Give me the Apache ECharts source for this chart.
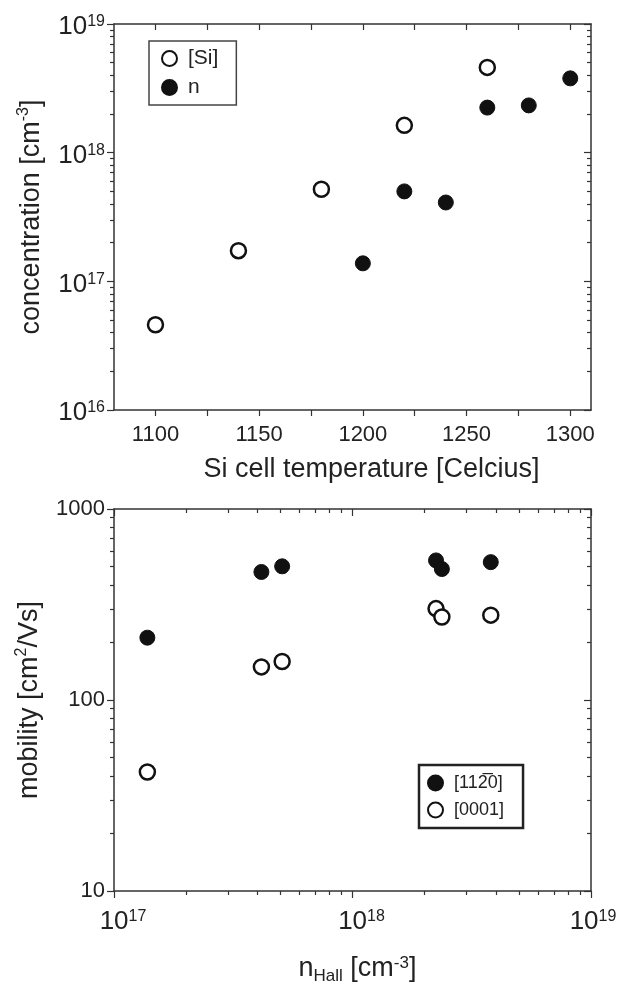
<!DOCTYPE html>
<html><head><meta charset="utf-8">
<script src="https://cdn.jsdelivr.net/npm/echarts@6/dist/echarts.min.js"></script>
<style>html,body{margin:0;padding:0;background:#fff}#c{width:618px;height:998px}</style>
</head><body><div id="c"></div>
<script>
// ---- Top panel data ----
const siTemp = [1100, 1140, 1180, 1220, 1260];
const siConc = [4.6e16, 1.73e17, 5.2e17, 1.63e18, 4.6e18];
const nTemp = [1200, 1220, 1240, 1260, 1280, 1300];
const nConc = [1.38e17, 5.0e17, 4.1e17, 2.24e18, 2.33e18, 3.78e18];
const tempLabels = [1100, 1150, 1200, 1250, 1300];
const tempTicks = [1100, 1125, 1150, 1175, 1200, 1225, 1250, 1275, 1300];
const concDecades = [1e16, 1e17, 1e18, 1e19];
// ---- Bottom panel data ----
const nHall = [1.38e17, 4.15e17, 5.07e17, 2.24e18, 2.37e18, 3.8e18];
const mob1120 = [212, 468, 501, 538, 485, 527];
const mob0001 = [42, 149, 159, 301, 272, 278];
const hallDecades = [1e17, 1e18, 1e19];
const mobDecades = [10, 100, 1000];
const legendTop = ['[Si]', 'n'];
const legendBottom = ['[112\u03050]', '[0001]'];

function minorLog(decs) {
  const out = [];
  for (let i = 0; i < decs.length - 1; i++) for (let k = 2; k <= 9; k++) out.push(decs[i] * k);
  return out;
}
const FF = '"Liberation Sans", Arial, Helvetica, sans-serif';
const AX = { lineStyle: { color: '#333', width: 1.5 } };
const plainFmt = v => String(Math.round(v));
const powFmt = v => '{b|10}{s|' + Math.round(Math.log10(v)) + '}';
const powFmtX = v => {
  const e = Math.round(Math.log10(v));
  return (e >= 19 ? '{q| }' : '{p| }') + '{b|10}{s|' + e + '}';
};
const powRich = { b: { fontSize: 26, fontFamily: FF, color: '#222', verticalAlign: 'bottom', lineHeight: 26 },
                  s: { fontSize: 16, fontFamily: FF, color: '#222', verticalAlign: 'top', lineHeight: 16, padding: [0, 0, 16, 0] },
                  p: { fontSize: 10, width: 18 },
                  q: { fontSize: 10, width: 4 } };

function pairs(xs, ys) { return xs.map((x, i) => [x, ys[i]]); }
function frameAxis(base, extra) { return Object.assign({}, base, extra); }

const xTop0 = { type: 'value', gridIndex: 0, min: 1080, max: 1310, splitLine: { show: false }, axisLine: AX };
const yTop0 = { type: 'log', logBase: 10, gridIndex: 0, min: 1e16, max: 1e19, splitLine: { show: false }, axisLine: AX };
const xBot0 = { type: 'log', logBase: 10, gridIndex: 1, min: 1e17, max: 1e19, splitLine: { show: false }, axisLine: AX };
const yBot0 = { type: 'log', logBase: 10, gridIndex: 1, min: 10, max: 1000, splitLine: { show: false }, axisLine: AX };
const tickStyle = { color: '#333', width: 1.2 };
const noLab = { show: false };

const option = {
  animation: false,
  backgroundColor: '#fff',
  grid: [
    { left: 114, top: 24, width: 477, height: 386, containLabel: false, outerBoundsMode: 'none' },
    { left: 114, top: 509, width: 477, height: 382, containLabel: false, outerBoundsMode: 'none' }
  ],
  xAxis: [
    frameAxis(xTop0, { position: 'bottom',
      axisTick: { customValues: tempTicks, inside: false, length: 6, lineStyle: tickStyle },
      axisLabel: { customValues: tempLabels, formatter: plainFmt, fontSize: 22, fontFamily: FF, color: '#222', margin: 14 },
      name: 'Si cell temperature [Celcius]', nameLocation: 'middle', nameGap: 46,
      nameTextStyle: { fontSize: 27, fontFamily: FF, color: '#222', padding: [0, 0, 0, 38] } }),
    frameAxis(xTop0, { position: 'top',
      axisTick: { customValues: tempTicks, inside: true, length: 6, lineStyle: tickStyle }, axisLabel: noLab }),
    frameAxis(xBot0, { position: 'bottom',
      axisTick: { customValues: hallDecades, inside: false, length: 7, lineStyle: tickStyle },
      axisLabel: { customValues: hallDecades, formatter: powFmtX, rich: powRich, margin: 18, hideOverlap: false },
      name: '{n|n}{h|Hall}{n| [cm}{s|-3}{n|]}', nameLocation: 'middle', nameGap: 58,
      nameTextStyle: { fontSize: 27, fontFamily: FF, color: '#222', padding: [0, 0, 0, 10], rich: {
        n: { fontSize: 27, fontFamily: FF, color: '#222', lineHeight: 30, verticalAlign: 'top' },
        h: { fontSize: 17, fontFamily: FF, color: '#222', lineHeight: 17, verticalAlign: 'bottom', padding: [26, 0, 0, 0] },
        s: { fontSize: 17, fontFamily: FF, color: '#222', lineHeight: 17, verticalAlign: 'top' } } } }),
    frameAxis(xBot0, { position: 'bottom', axisLine: { show: false },
      axisTick: { customValues: minorLog(hallDecades), inside: false, length: 4, lineStyle: tickStyle }, axisLabel: noLab }),
    frameAxis(xBot0, { position: 'top',
      axisTick: { customValues: hallDecades, inside: true, length: 7, lineStyle: tickStyle }, axisLabel: noLab }),
    frameAxis(xBot0, { position: 'top', axisLine: { show: false },
      axisTick: { customValues: minorLog(hallDecades), inside: true, length: 4, lineStyle: tickStyle }, axisLabel: noLab })
  ],
  yAxis: [
    frameAxis(yTop0, { position: 'left',
      axisTick: { customValues: concDecades, inside: false, length: 7, lineStyle: tickStyle },
      axisLabel: { customValues: concDecades, formatter: powFmt, rich: powRich, margin: 9, padding: [6, 0, 0, 0] },
      name: 'concentration [cm{s|-3}]', nameLocation: 'middle', nameGap: 65,
      nameTextStyle: { fontSize: 27, fontFamily: FF, color: '#222', lineHeight: 32,
        rich: { s: { fontSize: 16, fontFamily: FF, color: '#222', verticalAlign: 'top', lineHeight: 16 } } } }),
    frameAxis(yTop0, { position: 'left', axisLine: { show: false },
      axisTick: { customValues: minorLog(concDecades), inside: false, length: 4, lineStyle: tickStyle }, axisLabel: noLab }),
    frameAxis(yTop0, { position: 'right',
      axisTick: { customValues: concDecades, inside: true, length: 7, lineStyle: tickStyle }, axisLabel: noLab }),
    frameAxis(yTop0, { position: 'right', axisLine: { show: false },
      axisTick: { customValues: minorLog(concDecades), inside: true, length: 4, lineStyle: tickStyle }, axisLabel: noLab }),
    frameAxis(yBot0, { position: 'left',
      axisTick: { customValues: mobDecades, inside: false, length: 7, lineStyle: tickStyle },
      axisLabel: { customValues: mobDecades, formatter: plainFmt, fontSize: 22, fontFamily: FF, color: '#222', margin: 9 },
      name: 'mobility [cm{s|2}/Vs]', nameLocation: 'middle', nameGap: 65,
      nameTextStyle: { fontSize: 27, fontFamily: FF, color: '#222', lineHeight: 32,
        rich: { s: { fontSize: 16, fontFamily: FF, color: '#222', verticalAlign: 'top', lineHeight: 16 } } } }),
    frameAxis(yBot0, { position: 'left', axisLine: { show: false },
      axisTick: { customValues: minorLog(mobDecades), inside: false, length: 4, lineStyle: tickStyle }, axisLabel: noLab }),
    frameAxis(yBot0, { position: 'right',
      axisTick: { customValues: mobDecades, inside: true, length: 7, lineStyle: tickStyle }, axisLabel: noLab }),
    frameAxis(yBot0, { position: 'right', axisLine: { show: false },
      axisTick: { customValues: minorLog(mobDecades), inside: true, length: 4, lineStyle: tickStyle }, axisLabel: noLab })
  ],
  legend: [
    { data: legendTop, orient: 'vertical', left: 149, top: 41, padding: [7, 18, 7, 12], itemWidth: 15, itemHeight: 15, itemGap: 8,
      borderColor: '#444', borderWidth: 1.5, backgroundColor: '#fff',
      textStyle: { fontSize: 21, fontFamily: FF, color: '#222', lineHeight: 20, padding: [0, 0, 0, 6] } },
    { data: legendBottom, orient: 'vertical', left: 419, top: 765, padding: [8, 19, 8, 8], itemWidth: 15, itemHeight: 15, itemGap: 7,
      borderColor: '#222', borderWidth: 2.5, backgroundColor: '#fff',
      textStyle: { fontSize: 18, fontFamily: FF, color: '#222', lineHeight: 20, padding: [0, 0, 0, 6] } }
  ],
  series: [
    { name: legendTop[0], type: 'scatter', xAxisIndex: 0, yAxisIndex: 0, symbolSize: 15, data: pairs(siTemp, siConc),
      itemStyle: { color: '#fff', borderColor: '#111', borderWidth: 2.5, opacity: 1 } },
    { name: legendTop[1], type: 'scatter', xAxisIndex: 0, yAxisIndex: 0, symbolSize: 15, data: pairs(nTemp, nConc),
      itemStyle: { color: '#111', borderColor: '#111', borderWidth: 1, opacity: 1 } },
    { name: legendBottom[0], type: 'scatter', xAxisIndex: 2, yAxisIndex: 4, symbolSize: 15, data: pairs(nHall, mob1120),
      itemStyle: { color: '#111', borderColor: '#111', borderWidth: 1, opacity: 1 } },
    { name: legendBottom[1], type: 'scatter', xAxisIndex: 2, yAxisIndex: 4, symbolSize: 15, data: pairs(nHall, mob0001),
      itemStyle: { color: '#fff', borderColor: '#111', borderWidth: 2.5, opacity: 1 } }
  ]
};
const chart = echarts.init(document.getElementById('c'), null, { renderer: 'canvas' });
chart.setOption(option);
</script></body></html>
